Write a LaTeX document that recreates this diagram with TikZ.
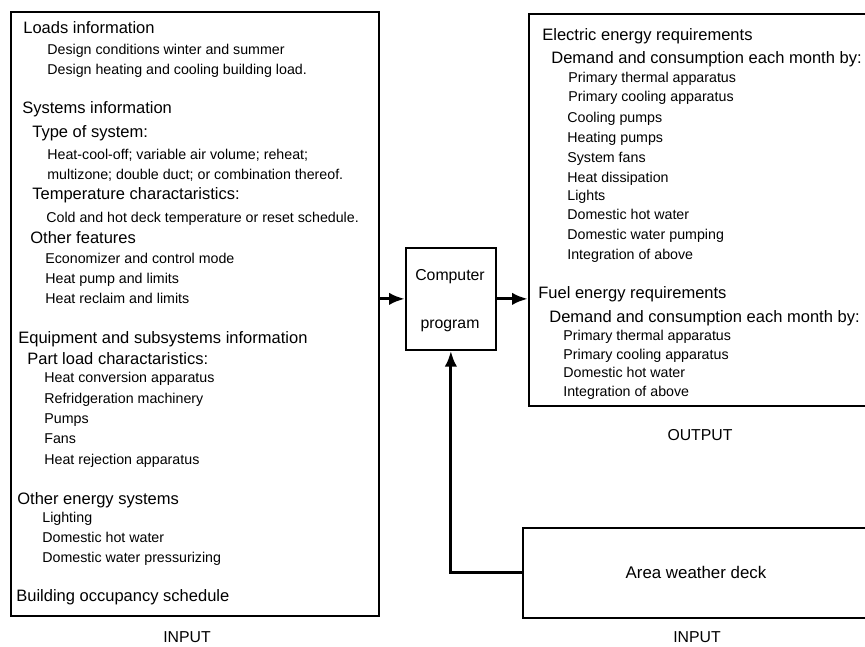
\documentclass[tikz,border=0pt]{standalone}
\usepackage{fontspec}
\setmainfont{Liberation Sans}
\usetikzlibrary{arrows.meta}
\tikzset{head/.style={anchor=base west,inner sep=0pt,font=\fontsize{9.4}{11}\selectfont},
         item/.style={anchor=base west,inner sep=0pt,font=\fontsize{8.1}{10}\selectfont},
         caption/.style={anchor=base,inner sep=0pt,font=\fontsize{9}{11}\selectfont},
         box/.style={draw,line width=1pt,inner sep=0pt,anchor=north west},
         flow/.style={line width=1.8pt,-{Latex[length=9pt,width=7pt]}}}

\begin{document}
\begin{tikzpicture}[x=0.02cm,y=-0.02cm]
    \useasboundingbox (0,0) rectangle (865,646);
    \clip (0,0) rectangle (865,646);

    % boxes
    \node (inbox)  [box] [minimum width=7.36cm,minimum height=12.08cm] at (10,11)  {};
    \node (comp)   [box] [minimum width=1.8cm,minimum height=2.04cm]   at (405,247) {};
    \node (outbox) [box] [minimum width=7.04cm,minimum height=7.84cm]  at (528,13)  {};
    \node (wbox)   [box] [minimum width=7.16cm,minimum height=1.8cm]   at (522,527) {};

    % input list
    \node (loads)   [head] at (23,33)  {Loads information};
    \node (loads1)  [item] at (47,54)  {Design conditions winter and summer};
    \node (loads2)  [item] at (47,74)  {Design heating and cooling building load.};
    \node (sys)     [head] at (22,113) {Systems information};
    \node (type)    [head] at (32,137) {Type of system:};
    \node (type1)   [item] at (47,159) {Heat-cool-off; variable air volume; reheat;};
    \node (type2)   [item] at (47,179) {multizone; double duct; or combination thereof.};
    \node (temp)    [head] at (32,199) {Temperature charactaristics:};
    \node (temp1)   [item] at (46,222) {Cold and hot deck temperature or reset schedule.};
    \node (feat)    [head] at (30,243) {Other features};
    \node (feat1)   [item] at (45,263) {Economizer and control mode};
    \node (feat2)   [item] at (45,283) {Heat pump and limits};
    \node (feat3)   [item] at (45,303) {Heat reclaim and limits};
    \node (equip)   [head] at (18,343) {Equipment and subsystems information};
    \node (part)    [head] at (27,364) {Part load charactaristics:};
    \node (part1)   [item] at (44,382) {Heat conversion apparatus};
    \node (part2)   [item] at (44,403) {Refridgeration machinery};
    \node (part3)   [item] at (44,423) {Pumps};
    \node (part4)   [item] at (44,443) {Fans};
    \node (part5)   [item] at (44,464) {Heat rejection apparatus};
    \node (other)   [head] at (17,504) {Other energy systems};
    \node (other1)  [item] at (42,522) {Lighting};
    \node (other2)  [item] at (42,542) {Domestic hot water};
    \node (other3)  [item] at (42,562) {Domestic water pressurizing};
    \node (occ)     [head] at (16,601) {Building occupancy schedule};
    \node (incap)   [caption] at (187,642) {INPUT};

    % program
    \node (comptop) [caption] at (450,280) {Computer};
    \node (compbot) [caption] at (450,328) {program};

    % output list
    \node (elec)    [head] at (542,40)  {Electric energy requirements};
    \node (edem)    [head] at (551,63)  {Demand and consumption each month by:};
    \node (e1)      [item] at (568,82)  {Primary thermal apparatus};
    \node (e2)      [item] at (568,101) {Primary cooling apparatus};
    \node (e3)      [item] at (567,122) {Cooling pumps};
    \node (e4)      [item] at (567,142) {Heating pumps};
    \node (e5)      [item] at (567,162) {System fans};
    \node (e6)      [item] at (567,182) {Heat dissipation};
    \node (e7)      [item] at (567,200) {Lights};
    \node (e8)      [item] at (567,219) {Domestic hot water};
    \node (e9)      [item] at (567,239) {Domestic water pumping};
    \node (e10)     [item] at (567,259) {Integration of above};
    \node (fuel)    [head] at (538,298) {Fuel energy requirements};
    \node (fdem)    [head] at (549,322) {Demand and consumption each month by:};
    \node (f1)      [item] at (563,340) {Primary thermal apparatus};
    \node (f2)      [item] at (563,359) {Primary cooling apparatus};
    \node (f3)      [item] at (563,377) {Domestic hot water};
    \node (f4)      [item] at (563,396) {Integration of above};
    \node (outcap)  [caption] at (700,440) {OUTPUT};

    % weather
    \node (weather) [caption,font=\fontsize{9.6}{11}\selectfont] at (696,578) {Area weather deck};
    \node (wcap)    [caption] at (697,642) {INPUT};

    % flow
    \draw [flow] (inbox.east |- comp.west) -- (comp.west);
    \draw [flow] (comp.east) -- (outbox.west |- comp.east);
    \draw [flow] (wbox.west) -| (comp.south);
\end{tikzpicture}
\end{document}
